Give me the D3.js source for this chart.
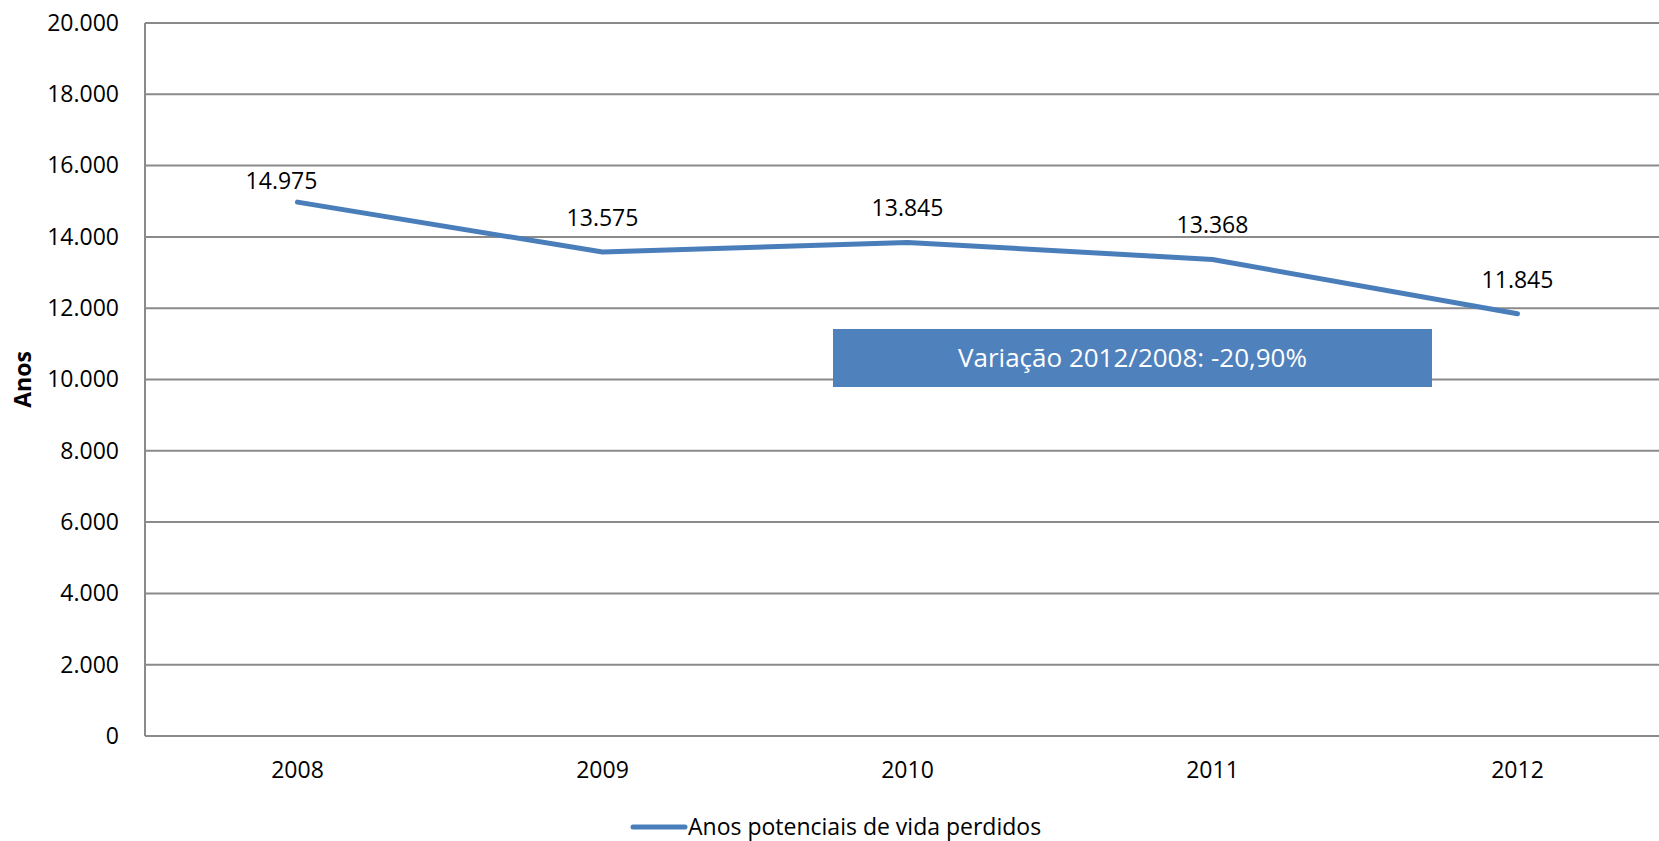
<!DOCTYPE html>
<html>
<head>
<meta charset="utf-8">
<script src="https://cdn.jsdelivr.net/npm/d3@7"></script>
<style>
  html, body { margin: 0; padding: 0; background: #fff; }
  svg { display: block; font-family: 'Open Sans', sans-serif; }
</style>
</head>
<body>
<svg id="chart" width="1659" height="841"></svg>
<script>
// Anos potenciais de vida perdidos, 2008–2012
const years = ["2008", "2009", "2010", "2011", "2012"];
const anosPerdidos = [14975, 13575, 13845, 13368, 11845];
const yTicks = [0, 2000, 4000, 6000, 8000, 10000, 12000, 14000, 16000, 18000, 20000];
const seriesName = "Anos potenciais de vida perdidos";
const axisTitle = "Anos";
const noteText = "Variação 2012/2008: -20,90%";

const W = 1659, H = 841;
const plot = { left: 145, top: 23, bottom: 736, right: 1670 };
const gridColor = "#8a8a8a";
const lineColor = "#4a7ebb";
const boxColor = "#4f81bd";

const ptBR = d3.formatLocale({ decimal: ",", thousands: ".", grouping: [3], currency: ["R$", ""] });
const fmt = ptBR.format(",d");

const svg = d3.select("#chart");

const x = d3.scaleBand().domain(years).range([plot.left, plot.right]).padding(0);
const y = d3.scaleLinear().domain([0, 20000]).range([plot.bottom, plot.top]);
const cx = d => x(d) + x.bandwidth() / 2;

// horizontal gridlines
svg.append("g")
  .selectAll("line")
  .data(yTicks)
  .join("line")
  .attr("x1", plot.left).attr("x2", W)
  .attr("y1", d => y(d)).attr("y2", d => y(d))
  .attr("stroke", gridColor).attr("stroke-width", 2);

// vertical axis line
svg.append("line")
  .attr("x1", plot.left).attr("x2", plot.left)
  .attr("y1", y(20000)).attr("y2", y(0))
  .attr("stroke", gridColor).attr("stroke-width", 2);

// y axis labels
const yAxis = svg.append("g")
  .attr("transform", `translate(${plot.left},0)`)
  .call(d3.axisLeft(y).tickValues(yTicks).tickFormat(fmt).tickSize(0).tickPadding(26));
yAxis.select(".domain").remove();
yAxis.selectAll("text")
  .attr("font-family", "'Open Sans', sans-serif")
  .attr("font-size", 23)
  .attr("fill", "#000");

// x axis labels
const xAxis = svg.append("g")
  .attr("transform", `translate(0,${plot.bottom})`)
  .call(d3.axisBottom(x).tickSize(0).tickPadding(0));
xAxis.select(".domain").remove();
xAxis.selectAll("text")
  .attr("font-family", "'Open Sans', sans-serif")
  .attr("font-size", 23)
  .attr("fill", "#000")
  .attr("dy", null)
  .attr("y", 42);

// y axis title
svg.append("text")
  .attr("transform", `translate(31,${(plot.top + plot.bottom) / 2}) rotate(-90)`)
  .attr("text-anchor", "middle")
  .attr("font-size", 23)
  .attr("font-weight", "bold")
  .text(axisTitle);

// series line
const data = years.map((yr, i) => ({ year: yr, value: anosPerdidos[i] }));
svg.append("path")
  .datum(data)
  .attr("fill", "none")
  .attr("stroke", lineColor)
  .attr("stroke-width", 5)
  .attr("stroke-linejoin", "round")
  .attr("stroke-linecap", "round")
  .attr("d", d3.line().x(d => cx(d.year)).y(d => y(d.value)));

// value labels above each point (first one nudged to sit closer to the line start)
const labelShift = [{ dx: -16, dy: 13 }, { dx: 0, dy: 0 }, { dx: 0, dy: 0 }, { dx: 0, dy: 0 }, { dx: 0, dy: 0 }];
svg.append("g")
  .selectAll("text")
  .data(data)
  .join("text")
  .attr("x", (d, i) => cx(d.year) + labelShift[i].dx)
  .attr("y", (d, i) => y(d.value) - 26 + labelShift[i].dy)
  .attr("text-anchor", "middle")
  .attr("font-size", 23)
  .attr("fill", "#000")
  .text(d => fmt(d.value));

// variation note box
const box = { x: 833, y: 329, w: 599, h: 58 };
svg.append("rect")
  .attr("x", box.x).attr("y", box.y)
  .attr("width", box.w).attr("height", box.h)
  .attr("fill", boxColor);
svg.append("text")
  .attr("x", box.x + box.w / 2)
  .attr("y", box.y + box.h / 2)
  .attr("dy", "0.36em")
  .attr("text-anchor", "middle")
  .attr("font-size", 26)
  .attr("fill", "#fff")
  .text(noteText);

// legend
const legend = svg.append("g");
legend.append("line")
  .attr("x1", 633).attr("x2", 685)
  .attr("y1", 827).attr("y2", 827)
  .attr("stroke", lineColor).attr("stroke-width", 5)
  .attr("stroke-linecap", "round");
legend.append("text")
  .attr("x", 688).attr("y", 835)
  .attr("font-size", 23)
  .attr("fill", "#000")
  .text(seriesName);
</script>
</body>
</html>
